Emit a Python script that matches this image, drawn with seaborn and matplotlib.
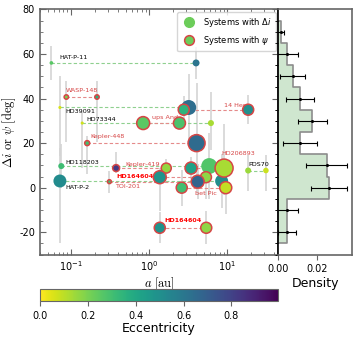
import matplotlib
matplotlib.use('Agg')
import matplotlib.pyplot as plt
from matplotlib.lines import Line2D
from matplotlib.colors import Normalize
from matplotlib.cm import ScalarMappable
import numpy as np
import pandas as pd
import seaborn as sns

# --- data -----------------------------------------------------------------
sys_names = ['HAT-P-11', 'HD39091', 'HD73344', 'HD118203', 'HAT-P-2', 'PDS70',
             'WASP-148', 'ups And', '14 Her', 'Kepler-448', 'Kepler-419',
             'HD164604', 'TOI-201', 'bet Pic', 'HD206893', 'HD164604']
sys_kind = ['di'] * 6 + ['psi'] * 10          # di = Delta i, psi = obliquity
sys_angle = [56, 36, 29, 9.7, 3.0, 7.7,
             40.7, 29, 35, 20, 8.8, 4.7, 2.7, 0.0, 8.8, -18]

# two planets per system
planet_sys = [i for i in range(len(sys_names)) for _ in range(2)]
sma = [0.056, 4.0, 0.072, 3.22, 0.139, 6.2, 0.075, 5.9, 0.072, 8.5, 18.6, 31.4,
       0.087, 0.215, 0.84, 2.45, 2.78, 18.6, 0.161, 4.06, 0.378, 1.66,
       1.37, 5.35, 0.31, 4.19, 2.62, 9.6, 3.45, 9.14, 1.37, 5.4]
ecc = [0.26, 0.61, 0.06, 0.64, 0.07, 0.13, 0.31, 0.27, 0.52, 0.51, 0.15, 0.08,
       0.20, 0.36, 0.25, 0.28, 0.35, 0.50, 0.30, 0.65, 0.83, 0.16,
       0.48, 0.17, 0.30, 0.68, 0.30, 0.09, 0.42, 0.13, 0.48, 0.17]
psize = [7, 25, 5, 116, 5, 19, 19, 132, 87, 87, 19, 16,
         10, 10, 87, 75, 63, 63, 13, 150, 25, 52,
         87, 63, 8, 87, 63, 75, 75, 168, 63, 63]
err_lo = [7.5, 7, 22, 15, 20, 12, 10, 15, 28, 12, 9, 9,
          20, 20, 2, 2, 6, 6.5, 14, 22, 2, 3, 15, 10, 5, 8, 8, 12, 5, 12, 7, 7.5]
err_hi = [7.5, 7, 14, 15, 5, 14, 10, 15, 15, 12, 7, 7,
          7, 7, 2, 2, 6, 6.5, 3, 27, 7, 4, 4, 5, 5, 8, 8, 12, 5, 20, 7, 7.5]

# histogram of the angles (density per 10 deg bin)
hist_edges = [-25, -15, -5, 5, 15, 25, 35, 45, 55, 65, 75]
hist_dens = [0.0045, 0.0045, 0.026, 0.025, 0.0113, 0.0176, 0.0113, 0.0076, 0.0045, 0.0013]
hist_err = [0.0045, 0.0058, 0.0093, 0.0105, 0.0086, 0.0074, 0.0073, 0.0064, 0.0056, 0.0018]

# label placement: (planet index in system, dx, dy in points, ha)
label_pos = [(0, 5.5, 4, 'left'), (0, 4, -3, 'left'), (0, 3, 2.5, 'left'),
             (0, 3, 2.5, 'left'), (0, 4, -4.5, 'left'), (0, 0.5, 4, 'left'),
             (0, -0.5, 4.5, 'left'), (0, 6, 4, 'left'), (1, -2, 3, 'right'),
             (0, 2.5, 4.5, 'left'), (0, 6.5, 2.5, 'left'), (0, -4.5, 0.7, 'right'),
             (0, 4, -3.6, 'left'), (1, -6.3, -3.9, 'right'), (1, -1.7, 10.4, 'left'),
             (0, 3.6, 5, 'left')]

df = pd.DataFrame({'sys': planet_sys, 'a': sma, 'ecc': ecc, 'size': psize,
                   'lo': err_lo, 'hi': err_hi})
df['ang'] = [sys_angle[i] for i in df.sys]
df['kind'] = [sys_kind[i] for i in df.sys]

RED = '#d64545'
GREEN = '#6ccd5a'
GREY = '#666666'
NORM = Normalize(0, 0.995)

plt.rcParams['axes.unicode_minus'] = False

fig = plt.figure(figsize=(3.57, 3.38), dpi=100)
ax = fig.add_axes([0.112, 0.247, 0.667, 0.725])
axh = fig.add_axes([0.779, 0.247, 0.207, 0.725], sharey=ax)
cax = fig.add_axes([0.112, 0.1095, 0.667, 0.0355])

ax.set_xscale('log')

# error bars and connecting lines
ax.errorbar(df.a, df.ang, yerr=[df.lo, df.hi], fmt='none', ecolor='#d4d4d4',
            elinewidth=1.2, zorder=1)
for i in range(len(sys_names)):
    d = df[df.sys == i]
    col = '#8fd08f' if sys_kind[i] == 'di' else '#e58a8a'
    ax.plot(d.a, d.ang, ls=(0, (3, 2)), color=col, lw=0.8, zorder=2)

# planets
for kk, ec, lw in [('di', 'none', 0), ('psi', RED, 1.1)]:
    sub = df[df.kind == kk]
    sns.scatterplot(x=sub.a.values, y=sub.ang.values, hue=sub.ecc.values,
                    palette='viridis_r', hue_norm=NORM, s=sub['size'].values,
                    edgecolor=ec, linewidth=lw, legend=False, ax=ax, zorder=4)

# system labels
for i, name in enumerate(sys_names):
    k, dx, dy, ha = label_pos[i]
    row = df[df.sys == i].iloc[k]
    if name == 'HD164604':
        col, fw = 'red', 'bold'
    else:
        col, fw = ('black' if sys_kind[i] == 'di' else RED), 'normal'
    ax.annotate(name, (row.a, row.ang), xytext=(dx, dy), textcoords='offset points',
                ha=ha, va='center', fontsize=4.6, color=col, fontweight=fw, zorder=3)

ax.set_xlim(0.04, 45)
ax.set_ylim(-30, 80)
ax.set_yticks([-20, 0, 20, 40, 60, 80])
ax.yaxis.set_minor_locator(matplotlib.ticker.MultipleLocator(5))
ax.tick_params(which='both', direction='in', top=True, right=True, labelsize=7,
               color=GREY)
ax.tick_params(which='major', length=4.5)
ax.tick_params(which='minor', length=2.5)
for sp in ax.spines.values():
    sp.set_color(GREY)
    sp.set_linewidth(1.2)
ax.set_xlabel(r'$a\ [\mathrm{au}]$', fontsize=9, math_fontfamily='cm', labelpad=2)
ax.set_ylabel(r'$\Delta i\ \mathrm{or}\ \psi\ [\mathrm{deg}]$', fontsize=9,
              math_fontfamily='cm', labelpad=1)

handles = [Line2D([], [], ls='', marker='o', ms=7, mfc=GREEN, mec=GREEN),
           Line2D([], [], ls='', marker='o', ms=7, mfc=GREEN, mec=RED, mew=1.1)]
ax.legend(handles, [r'Systems with $\Delta i$', r'Systems with $\psi$'],
          loc='upper right', fontsize=6, handletextpad=0.6, borderpad=0.5,
          labelspacing=0.6, borderaxespad=0.3)

# histogram panel
centers = [(hist_edges[j] + hist_edges[j + 1]) / 2 for j in range(len(hist_dens))]
sns.histplot(y=centers, weights=hist_dens, bins=hist_edges, element='step',
             fill=True, color='#cfe6cf', alpha=1, ax=axh)
for coll in axh.collections:
    coll.set_edgecolor('#8c8c8c')
    coll.set_linewidth(1.2)
axh.errorbar(hist_dens, centers, xerr=hist_err, fmt='o', ms=1.2, color='k',
             elinewidth=0.8, capsize=1.8, capthick=0.8)
axh.set_xlim(0, 0.038)
axh.set_xticks([0.0, 0.02])
axh.set_xticklabels(['0.00', '0.02'])
axh.tick_params(axis='y', left=False, labelleft=False)
axh.tick_params(axis='x', labelsize=7, color=GREY)
axh.set_ylabel('')
axh.set_xlabel('Density', fontsize=9, labelpad=2)
for sp in axh.spines.values():
    sp.set_color(GREY)
    sp.set_linewidth(1.2)
axh.spines['left'].set_color('black')

# colour bar
cb = fig.colorbar(ScalarMappable(norm=NORM, cmap='viridis_r'), cax=cax,
                  orientation='horizontal')
cb.set_ticks([0.0, 0.2, 0.4, 0.6, 0.8])
cb.ax.tick_params(labelsize=7, color=GREY)
cb.outline.set_edgecolor(GREY)
cb.set_label('Eccentricity', fontsize=9, labelpad=1)

fig.savefig('out.png', dpi=100)
